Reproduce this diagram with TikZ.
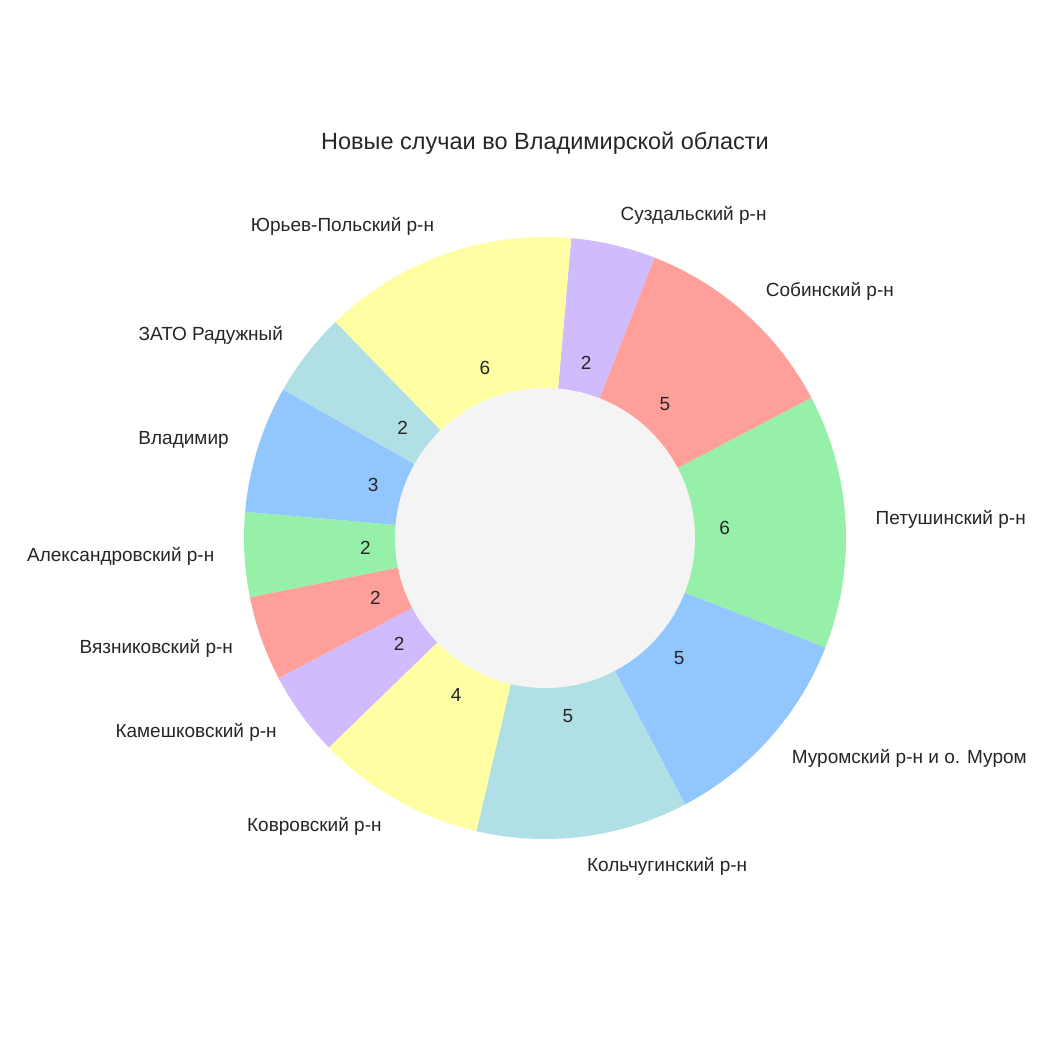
\documentclass[tikz,border=0pt]{standalone}
\usepackage{fontspec}
\setmainfont{Liberation Sans}
\usetikzlibrary{calc}
\definecolor{cB}{HTML}{92C6FF}
\definecolor{cG}{HTML}{97F0AA}
\definecolor{cR}{HTML}{FF9F9A}
\definecolor{cP}{HTML}{D0BBFF}
\definecolor{cY}{HTML}{FFFEA3}
\definecolor{cC}{HTML}{B0E0E6}
\definecolor{inner}{HTML}{F4F4F4}
\definecolor{txt}{HTML}{262626}
\tikzset{lab/.style={font=\fontsize{19}{22}\selectfont,text=txt,inner sep=0pt}}
\begin{document}
\begin{tikzpicture}[x=1pt,y=1pt]
\fill[white] (0,0) rectangle (1050,1050);
\useasboundingbox (0,0) rectangle (1050,1050);
\coordinate (c) at (545,512);
\node[font=\fontsize{23.5}{26}\selectfont,text=txt] (title) at (545,907) {Новые случаи во Владимирской области};
\foreach \a/\b/\col/\lab/\v/\anc/\i in {
85/68.64/cP/Суздальский р-н/2/west/1,
68.64/27.73/cR/Собинский р-н/5/west/2,
27.73/-21.36/cG/Петушинский р-н/6/west/3,
-21.36/-62.27/cB/Муромский р-н и о. Муром/5/west/4,
-62.27/-103.18/cC/Кольчугинский р-н/5/west/5,
-103.18/-135.91/cY/Ковровский р-н/4/east/6,
-135.91/-152.27/cP/Камешковский р-н/2/east/7,
-152.27/-168.64/cR/Вязниковский р-н/2/east/8,
-168.64/-185/cG/Александровский р-н/2/east/9,
-185/-209.55/cB/Владимир/3/east/10,
-209.55/-225.91/cC/ЗАТО Радужный/2/east/11,
-225.91/-275/cY/Юрьев-Польский р-н/6/east/12}{
  \fill[\col] (c) -- ($(c)+(\a:301pt)$) arc[start angle=\a,end angle=\b,radius=301pt] -- cycle;
  \pgfmathsetmacro\m{(\a+\b)/2}
  \node[lab,anchor=\anc] (l\i) at ($(c)+(\m:331pt)$) {\lab};
  \node[lab] (n\i) at ($(c)+(\m:180pt)$) {\v};
}
\fill[inner] (c) circle[radius=150pt];
\end{tikzpicture}
\end{document}
